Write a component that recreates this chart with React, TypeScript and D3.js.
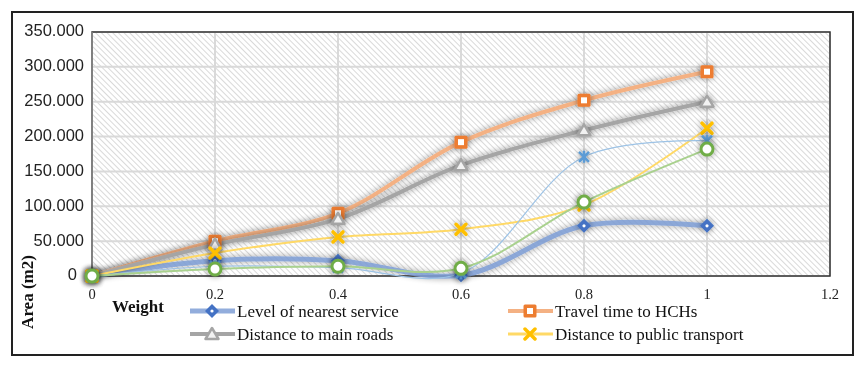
import * as d3 from 'd3';

const weights = [0, 0.2, 0.4, 0.6, 0.8, 1];
const levelOfService = [0, 22, 22, 1, 72, 72];
const travelTime = [0, 50, 90, 192, 252, 293];
const mainRoads = [0, 45, 82, 159, 209, 250];
const publicTransport = [0, 33, 56, 67, 102, 212];
const extraBlue = [0, 14, 12, 4, 171, 194];
const extraGreen = [0, 10, 14, 11, 106, 182];

const xTicks = [0, 0.2, 0.4, 0.6, 0.8, 1, 1.2];
const yTicks = [0, 50, 100, 150, 200, 250, 300, 350];

type Marker = 'diamond' | 'square' | 'triangle' | 'x' | 'star' | 'circle';

type Series = {
    name: string;
    values: number[];
    line: string;
    lineWidth: number;
    lineOpacity: number;
    marker: Marker;
    color: string;
    legend: boolean;
};

const series: Series[] = [
    { name: 'Level of nearest service', values: levelOfService, line: '#7F9FD6', lineWidth: 5, lineOpacity: 0.85, marker: 'diamond', color: '#4472C4', legend: true },
    { name: 'Travel time to HCHs', values: travelTime, line: '#F4B183', lineWidth: 4, lineOpacity: 1, marker: 'square', color: '#ED7D31', legend: true },
    { name: 'Distance to main roads', values: mainRoads, line: '#A5A5A5', lineWidth: 4, lineOpacity: 1, marker: 'triangle', color: '#A5A5A5', legend: true },
    { name: 'Distance to public transport', values: publicTransport, line: '#FFD966', lineWidth: 2, lineOpacity: 1, marker: 'x', color: '#FFC000', legend: true },
    { name: 'extra1', values: extraBlue, line: '#9DC3E6', lineWidth: 1.2, lineOpacity: 1, marker: 'star', color: '#5B9BD5', legend: false },
    { name: 'extra2', values: extraGreen, line: '#A9D18E', lineWidth: 2, lineOpacity: 1, marker: 'circle', color: '#70AD47', legend: false },
];

const W = 863;
const H = 368;
const plot = { left: 92, top: 32, right: 830, bottom: 276 };

function MarkerShape({ kind, color, x, y }: { kind: Marker; color: string; x: number; y: number }) {
    switch (kind) {
        case 'diamond':
            return (
                <g transform={`translate(${x},${y})`}>
                    <path d="M0,-7L7,0L0,7L-7,0Z" fill={color} />
                    <circle r={1.6} fill="#fff" />
                </g>
            );
        case 'square':
            return (
                <g transform={`translate(${x},${y})`}>
                    <rect x={-6.5} y={-6.5} width={13} height={13} rx={1.5} fill={color} />
                    <rect x={-3} y={-3} width={6} height={6} fill="#fff" />
                </g>
            );
        case 'triangle':
            return (
                <path
                    transform={`translate(${x},${y})`}
                    d="M0,-6L6.5,5L-6.5,5Z"
                    fill="#F2F2F2"
                    stroke={color}
                    strokeWidth={2.5}
                    strokeLinejoin="round"
                />
            );
        case 'x':
            return (
                <path
                    transform={`translate(${x},${y})`}
                    d="M-5,-5L5,5M5,-5L-5,5"
                    stroke={color}
                    strokeWidth={3.5}
                    strokeLinecap="round"
                />
            );
        case 'star':
            return (
                <path
                    transform={`translate(${x},${y})`}
                    d="M-5,-5L5,5M5,-5L-5,5M0,-6L0,6"
                    stroke={color}
                    strokeWidth={2.5}
                />
            );
        case 'circle':
            return <circle cx={x} cy={y} r={6} fill="#fff" stroke={color} strokeWidth={3} />;
    }
}

export default function App() {
    const x = d3.scaleLinear().domain([0, 1.2]).range([plot.left, plot.right]);
    const y = d3.scaleLinear().domain([0, 350]).range([plot.bottom, plot.top]);

    const line = d3
        .line<number>()
        .x((_, i) => x(weights[i]))
        .y((d) => y(d))
        .curve(d3.curveCatmullRom.alpha(0.5));

    const legendItems = series.filter((s) => s.legend);
    const legendCols = [190, 508];
    const legendRows = [311, 334];

    return (
        <svg
            width={W}
            height={H}
            style={{ position: 'absolute', left: 0, top: 0 }}
        >
            <defs>
                <pattern id="hatch" width="4" height="4" patternUnits="userSpaceOnUse" patternTransform="rotate(-45)">
                    <rect width="4" height="4" fill="#FFFFFF" />
                    <line x1="0" y1="0" x2="0" y2="4" stroke="#CDCDCD" strokeWidth="1.5" />
                </pattern>
                <filter id="glow" x="-100%" y="-100%" width="300%" height="300%">
                    <feGaussianBlur in="SourceAlpha" stdDeviation="3" />
                    <feComponentTransfer>
                        <feFuncA type="linear" slope="0.45" />
                    </feComponentTransfer>
                    <feMerge>
                        <feMergeNode />
                        <feMergeNode in="SourceGraphic" />
                    </feMerge>
                </filter>
            </defs>
            <rect width={W} height={H} fill="#fff" />
            <rect x={12} y={12} width={841} height={343} fill="#fff" stroke="#222" strokeWidth={2} />

            <rect
                x={plot.left}
                y={plot.top}
                width={plot.right - plot.left}
                height={plot.bottom - plot.top}
                fill="url(#hatch)"
            />
            {yTicks.map((t) => (
                <line key={`gy${t}`} x1={plot.left} x2={plot.right} y1={y(t)} y2={y(t)} stroke="#D9D9D9" strokeWidth={2} />
            ))}
            {xTicks.map((t) => (
                <line key={`gx${t}`} x1={x(t)} x2={x(t)} y1={plot.top} y2={plot.bottom} stroke="#D9D9D9" strokeWidth={2} />
            ))}
            <rect
                x={plot.left}
                y={plot.top}
                width={plot.right - plot.left}
                height={plot.bottom - plot.top}
                fill="none"
                stroke="#333"
                strokeWidth={1.5}
            />
            <line x1={plot.left} x2={plot.left} y1={plot.top} y2={plot.bottom} stroke="#8C8C8C" strokeWidth={1.5} />

            {series.map((s) => (
                <path
                    key={`l-${s.name}`}
                    d={line(s.values) ?? ''}
                    fill="none"
                    stroke={s.line}
                    strokeWidth={s.lineWidth}
                    strokeOpacity={s.lineOpacity}
                    strokeLinecap="round"
                    filter={s.lineWidth >= 4 ? 'url(#glow)' : undefined}
                />
            ))}
            {series.map((s) => (
                <g key={`m-${s.name}`} filter="url(#glow)">
                    {s.values.map((v, i) => (
                        <MarkerShape key={i} kind={s.marker} color={s.color} x={x(weights[i])} y={y(v)} />
                    ))}
                </g>
            ))}

            {yTicks.map((t) => (
                <text
                    key={`ty${t}`}
                    x={t === 0 ? 77 : 84}
                    y={y(t)}
                    textAnchor="end"
                    dominantBaseline="middle"
                    fontFamily="Liberation Sans, Arial, sans-serif"
                    fontSize={16.5}
                    fill="#222"
                >
                    {t === 0 ? '0' : d3.format('.3f')(t)}
                </text>
            ))}
            {xTicks.map((t) => (
                <text
                    key={`tx${t}`}
                    x={x(t)}
                    y={299}
                    textAnchor="middle"
                    fontFamily="Liberation Serif, Times New Roman, serif"
                    fontSize={14.5}
                    fill="#222"
                >
                    {String(t)}
                </text>
            ))}
            <text x={112} y={312} fontFamily="Liberation Serif, serif" fontWeight="bold" fontSize={17} fill="#111">
                Weight
            </text>
            <text
                transform="translate(33,292) rotate(-90)"
                textAnchor="middle"
                fontFamily="Liberation Serif, serif"
                fontWeight="bold"
                fontSize={17}
                fill="#111"
            >
                Area (m2)
            </text>

            {legendItems.map((s, i) => {
                const lx = legendCols[i % 2];
                const ly = legendRows[Math.floor(i / 2)];
                return (
                    <g key={`lg-${s.name}`}>
                        <line x1={lx} x2={lx + 45} y1={ly} y2={ly} stroke={s.line} strokeWidth={Math.max(3, s.lineWidth)} strokeOpacity={s.lineOpacity} />
                        <MarkerShape kind={s.marker} color={s.color} x={lx + 22} y={ly} />
                        <text
                            x={lx + 47}
                            y={ly + 6}
                            fontFamily="Liberation Serif, Times New Roman, serif"
                            fontSize={17}
                            fill="#111"
                        >
                            {s.name}
                        </text>
                    </g>
                );
            })}
        </svg>
    );
}
